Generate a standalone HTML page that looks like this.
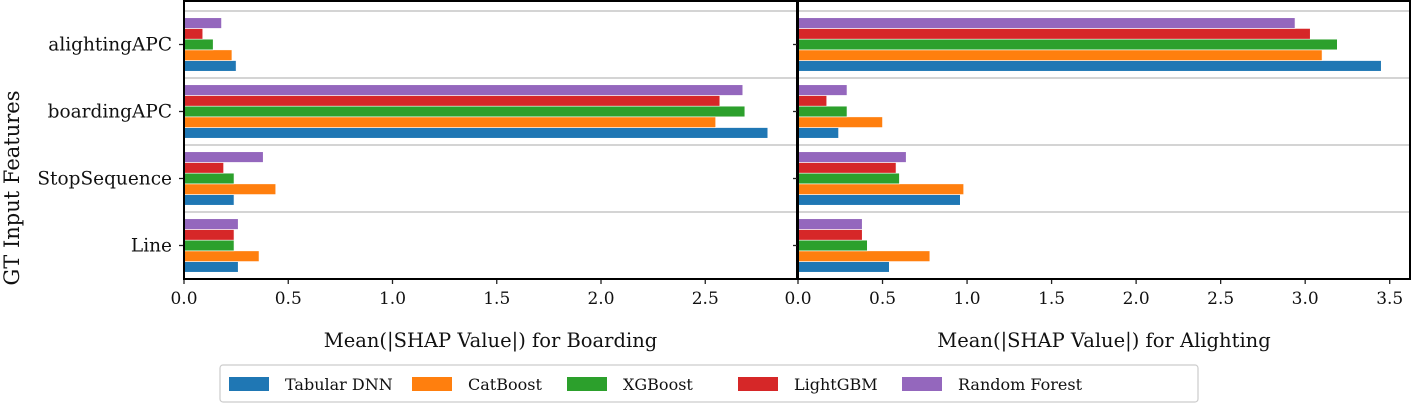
<!DOCTYPE html>
<html><head><meta charset="utf-8">
<style>
body{margin:0;background:#fff;width:1416px;height:412px;overflow:hidden}
svg text{font-family:"DejaVu Serif","Liberation Serif",serif;fill:#111}
</style></head>
<body>
<svg id="chart" width="1416" height="412" xmlns="http://www.w3.org/2000/svg"></svg>
<script>
const features=["alightingAPC","boardingAPC","StopSequence","Line"];
const models=["Tabular DNN","CatBoost","XGBoost","LightGBM","Random Forest"];
const colors=["#1f77b4","#ff7f0e","#2ca02c","#d62728","#9467bd"];
const boardDNN=[0.25,2.80,0.24,0.26];
const boardCat=[0.23,2.55,0.44,0.36];
const boardXGB=[0.14,2.69,0.24,0.24];
const boardLGBM=[0.09,2.57,0.19,0.24];
const boardRF=[0.18,2.68,0.38,0.26];
const alightDNN=[3.45,0.24,0.96,0.54];
const alightCat=[3.10,0.50,0.98,0.78];
const alightXGB=[3.19,0.29,0.60,0.41];
const alightLGBM=[3.03,0.17,0.58,0.38];
const alightRF=[2.94,0.29,0.64,0.38];
const leftTicks=["0.0","0.5","1.0","1.5","2.0","2.5"];
const rightTicks=["0.0","0.5","1.0","1.5","2.0","2.5","3.0","3.5"];

const svg=document.getElementById('chart');
const NS="http://www.w3.org/2000/svg";
function el(tag,attrs,parent){const e=document.createElementNS(NS,tag);for(const k in attrs)e.setAttribute(k,attrs[k]);(parent||svg).appendChild(e);return e;}
const plotTop=1,plotBottom=279;
const groupH=67,firstCenter=44.5;
function yc(i){return firstCenter+i*groupH;}
const barH=10.7;

function panel(x0,x1,maxV,series,ticks,title,name){
  const g=el('g',{});
  
  
  const sx=v=>x0+(v/maxV)*(x1-x0);
  for(let i=0;i<=features.length;i++){
    const y=yc(0)-groupH/2+i*groupH;
    if(y>plotTop+2&&y<plotBottom-2){const l=el('line',{x1:x0,x2:x1,y1:y,y2:y,stroke:'#bbb','stroke-width':1.3},g);
    
    }
  }
  features.forEach((f,i)=>{
    series.forEach((s,m)=>{
      const y=yc(i)+2*barH-m*barH-barH/2;
      const r=el('rect',{x:x0,y:y,width:sx(s[i])-x0,height:barH,fill:colors[m],stroke:'#fff','stroke-width':0.6},g);
      
      
    });
    el('line',{x1:x0-5,x2:x0,y1:yc(i),y2:yc(i),stroke:'#222','stroke-width':1.3},g);
  });
  ticks.forEach(t=>{
    const x=sx(parseFloat(t));
    el('line',{x1:x,x2:x,y1:plotBottom,y2:plotBottom+5,stroke:'#222','stroke-width':1.3},g);
    const tx=el('text',{x:x,y:plotBottom+25,'text-anchor':'middle','font-size':17},g);
    tx.textContent=t;
    
    
  });
  const tt=el('text',{x:(x0+x1)/2,y:347,'text-anchor':'middle','font-size':19.5},g);
  tt.textContent=title;
  
  
  el('rect',{x:x0,y:plotTop,width:x1-x0,height:plotBottom-plotTop,fill:'none',stroke:'#000','stroke-width':2},g);
}
panel(184,797,2.94,[boardDNN,boardCat,boardXGB,boardLGBM,boardRF],leftTicks,"Mean(|SHAP Value|) for Boarding","boarding-panel");
panel(798,1410,3.62,[alightDNN,alightCat,alightXGB,alightLGBM,alightRF],rightTicks,"Mean(|SHAP Value|) for Alighting","alighting-panel");
features.forEach((f,i)=>{
  const t=el('text',{x:172,y:yc(i)+6,'text-anchor':'end','font-size':18.5});
  t.textContent=f;
  
  
});
const yt=el('text',{x:0,y:0,'text-anchor':'middle','font-size':21,transform:'translate(19,188) rotate(-90)'});
yt.textContent="GT Input Features";


const lg=el('g',{});


el('rect',{x:220,y:365,width:978,height:37,rx:3,fill:'#fff',stroke:'#ccc','stroke-width':1.2},lg);
const lx=[229,412,567,738,902];
models.forEach((m,i)=>{
  const r=el('rect',{x:lx[i],y:377,width:40,height:14,fill:colors[i]},lg);
  
  
  const t=el('text',{x:lx[i]+56,y:390,'font-size':16},lg);
  t.textContent=m;
  
  
});
</script>
</body></html>
